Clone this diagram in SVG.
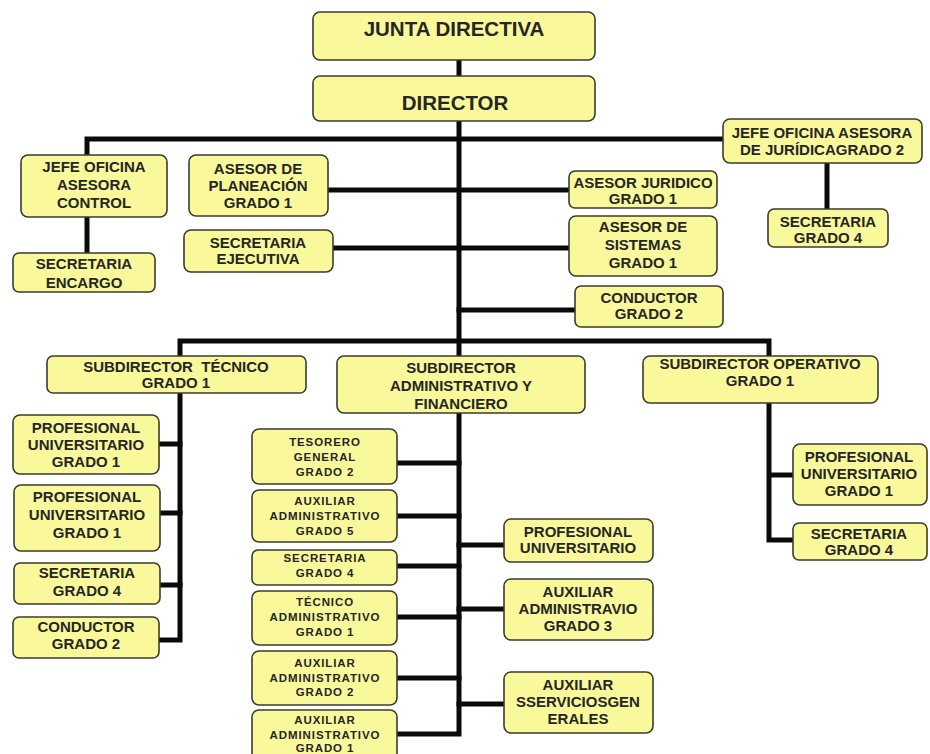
<svg xmlns="http://www.w3.org/2000/svg" width="930" height="754" viewBox="0 0 930 754">
<style>
.bx{fill:#F9F99C;stroke:#3b3b2e;stroke-width:1.6}
.t{font-family:"Liberation Sans",Arial,sans-serif;font-weight:bold;fill:#262626;text-anchor:middle;font-size:15px}
.big{font-size:20.5px}
.sm{font-size:11.5px;letter-spacing:0.9px}
.ln{stroke:#0a0a0a;stroke-width:5;fill:none;stroke-linecap:square}
</style>
<rect width="930" height="754" fill="#ffffff"/>
<g id="connectors">
<path class="ln" d="M459 60V76"/>
<path class="ln" d="M459 121V356"/>
<path class="ln" d="M87 155V139H723"/>
<path class="ln" d="M87 217V253"/>
<path class="ln" d="M827 163V209"/>
<path class="ln" d="M328 190H569"/>
<path class="ln" d="M333 248H569"/>
<path class="ln" d="M459 310H575"/>
<path class="ln" d="M180 356V341H769V356"/>
<path class="ln" d="M180 393V640H159"/>
<path class="ln" d="M159 444H180M160 513H180M160 585H180"/>
<path class="ln" d="M769 403V540H793M769 475H793"/>
<path class="ln" d="M459 413V734H397"/>
<path class="ln" d="M397 463H459M397 516H459M397 566H459M397 617H459M397 678H459"/>
<path class="ln" d="M459 545H504M459 609H504M459 704H504"/>
</g>
<g id="junta"><rect class="bx" x="313" y="12" width="282" height="48" rx="7"/><text class="t big" x="454" y="36">JUNTA DIRECTIVA</text></g>
<g id="director"><rect class="bx" x="313" y="76" width="282" height="45" rx="7"/><text class="t big" x="455" y="110">DIRECTOR</text></g>
<g id="jefe_control"><rect class="bx" x="21" y="155" width="146" height="62" rx="7"/><text class="t" x="94" y="172">JEFE OFICINA<tspan x="94" dy="18">ASESORA</tspan><tspan x="94" dy="18">CONTROL</tspan></text></g>
<g id="sec_encargo"><rect class="bx" x="13" y="253" width="142" height="39" rx="6"/><text class="t" x="84" y="269">SECRETARIA<tspan x="84" dy="19">ENCARGO</tspan></text></g>
<g id="asesor_planeacion"><rect class="bx" x="189" y="155" width="139" height="61" rx="7"/><text class="t" x="258" y="174">ASESOR DE<tspan x="258" dy="17">PLANEACIÓN</tspan><tspan x="258" dy="17">GRADO 1</tspan></text></g>
<g id="sec_ejecutiva"><rect class="bx" x="184" y="230" width="149" height="42" rx="7"/><text class="t" x="258" y="248">SECRETARIA<tspan x="258" dy="16">EJECUTIVA</tspan></text></g>
<g id="jefe_juridica"><rect class="bx" x="723" y="119" width="199" height="44" rx="7"/><text class="t" x="822" y="138">JEFE OFICINA ASESORA<tspan x="822" dy="17">DE JURÍDICAGRADO 2</tspan></text></g>
<g id="sec_juridica"><rect class="bx" x="768" y="209" width="120" height="38" rx="6"/><text class="t" x="828" y="227">SECRETARIA<tspan x="828" dy="16">GRADO 4</tspan></text></g>
<g id="asesor_juridico"><rect class="bx" x="569" y="171" width="148" height="37" rx="6"/><text class="t" x="643" y="188">ASESOR JURIDICO<tspan x="643" dy="16">GRADO 1</tspan></text></g>
<g id="asesor_sistemas"><rect class="bx" x="569" y="216" width="148" height="60" rx="7"/><text class="t" x="643" y="232">ASESOR DE<tspan x="643" dy="18">SISTEMAS</tspan><tspan x="643" dy="18">GRADO 1</tspan></text></g>
<g id="conductor_dir"><rect class="bx" x="575" y="286" width="148" height="41" rx="6"/><text class="t" x="649" y="303">CONDUCTOR<tspan x="649" dy="16">GRADO 2</tspan></text></g>
<g id="sub_tecnico"><rect class="bx" x="47" y="356" width="259" height="37" rx="6"/><text class="t" x="176" y="372" xml:space="preserve">SUBDIRECTOR  TÉCNICO<tspan x="176" dy="16">GRADO 1</tspan></text></g>
<g id="sub_administrativo"><rect class="bx" x="337" y="356" width="248" height="57" rx="7"/><text class="t" x="461" y="373">SUBDIRECTOR<tspan x="461" dy="18">ADMINISTRATIVO Y</tspan><tspan x="461" dy="18">FINANCIERO</tspan></text></g>
<g id="sub_operativo"><rect class="bx" x="643" y="356" width="235" height="47" rx="7"/><text class="t" x="760" y="369">SUBDIRECTOR OPERATIVO<tspan x="760" dy="17">GRADO 1</tspan></text></g>
<g id="prof_tec_1"><rect class="bx" x="13" y="415" width="146" height="59" rx="7"/><text class="t" x="86" y="433">PROFESIONAL<tspan x="86" dy="17">UNIVERSITARIO</tspan><tspan x="86" dy="17">GRADO 1</tspan></text></g>
<g id="prof_tec_2"><rect class="bx" x="14" y="485" width="146" height="66" rx="7"/><text class="t" x="87" y="502">PROFESIONAL<tspan x="87" dy="18">UNIVERSITARIO</tspan><tspan x="87" dy="18">GRADO 1</tspan></text></g>
<g id="sec_tec"><rect class="bx" x="14" y="563" width="146" height="41" rx="6"/><text class="t" x="87" y="578">SECRETARIA<tspan x="87" dy="18">GRADO 4</tspan></text></g>
<g id="conductor_tec"><rect class="bx" x="13" y="617" width="146" height="41" rx="6"/><text class="t" x="86" y="632">CONDUCTOR<tspan x="86" dy="17">GRADO 2</tspan></text></g>
<g id="tesorero"><rect class="bx" x="252" y="429" width="145" height="55" rx="7"/><text class="t sm" x="325" y="446">TESORERO<tspan x="325" dy="15">GENERAL</tspan><tspan x="325" dy="15">GRADO 2</tspan></text></g>
<g id="aux_adm_5"><rect class="bx" x="252" y="490" width="145" height="52" rx="7"/><text class="t sm" x="325" y="505">AUXILIAR<tspan x="325" dy="15">ADMINISTRATIVO</tspan><tspan x="325" dy="15">GRADO 5</tspan></text></g>
<g id="sec_adm"><rect class="bx" x="252" y="550" width="145" height="35" rx="6"/><text class="t sm" x="325" y="562">SECRETARIA<tspan x="325" dy="15">GRADO 4</tspan></text></g>
<g id="tecnico_adm"><rect class="bx" x="252" y="591" width="145" height="54" rx="7"/><text class="t sm" x="325" y="606">TÉCNICO<tspan x="325" dy="15">ADMINISTRATIVO</tspan><tspan x="325" dy="15">GRADO 1</tspan></text></g>
<g id="aux_adm_2"><rect class="bx" x="252" y="651" width="145" height="54" rx="7"/><text class="t sm" x="325" y="667">AUXILIAR<tspan x="325" dy="15">ADMINISTRATIVO</tspan><tspan x="325" dy="14">GRADO 2</tspan></text></g>
<g id="aux_adm_1"><rect class="bx" x="252" y="710" width="145" height="54" rx="7"/><text class="t sm" x="325" y="724">AUXILIAR<tspan x="325" dy="14.5">ADMINISTRATIVO</tspan><tspan x="325" dy="13.5">GRADO 1</tspan></text></g>
<g id="prof_adm"><rect class="bx" x="504" y="519" width="149" height="43" rx="7"/><text class="t" x="578" y="537">PROFESIONAL<tspan x="578" dy="16">UNIVERSITARIO</tspan></text></g>
<g id="aux_adm_3"><rect class="bx" x="504" y="579" width="149" height="61" rx="7"/><text class="t" x="578" y="597">AUXILIAR<tspan x="578" dy="17">ADMINISTRAVIO</tspan><tspan x="578" dy="17">GRADO 3</tspan></text></g>
<g id="aux_servicios"><rect class="bx" x="504" y="672" width="149" height="61" rx="7"/><text class="t" x="578" y="690">AUXILIAR<tspan x="578" dy="17">SSERVICIOSGEN</tspan><tspan x="578" dy="17">ERALES</tspan></text></g>
<g id="prof_op"><rect class="bx" x="793" y="444" width="134" height="61" rx="7"/><text class="t" x="859" y="462">PROFESIONAL<tspan x="859" dy="17">UNIVERSITARIO</tspan><tspan x="859" dy="17">GRADO 1</tspan></text></g>
<g id="sec_op"><rect class="bx" x="793" y="523" width="134" height="37" rx="6"/><text class="t" x="859" y="539">SECRETARIA<tspan x="859" dy="16">GRADO 4</tspan></text></g>
</svg>
